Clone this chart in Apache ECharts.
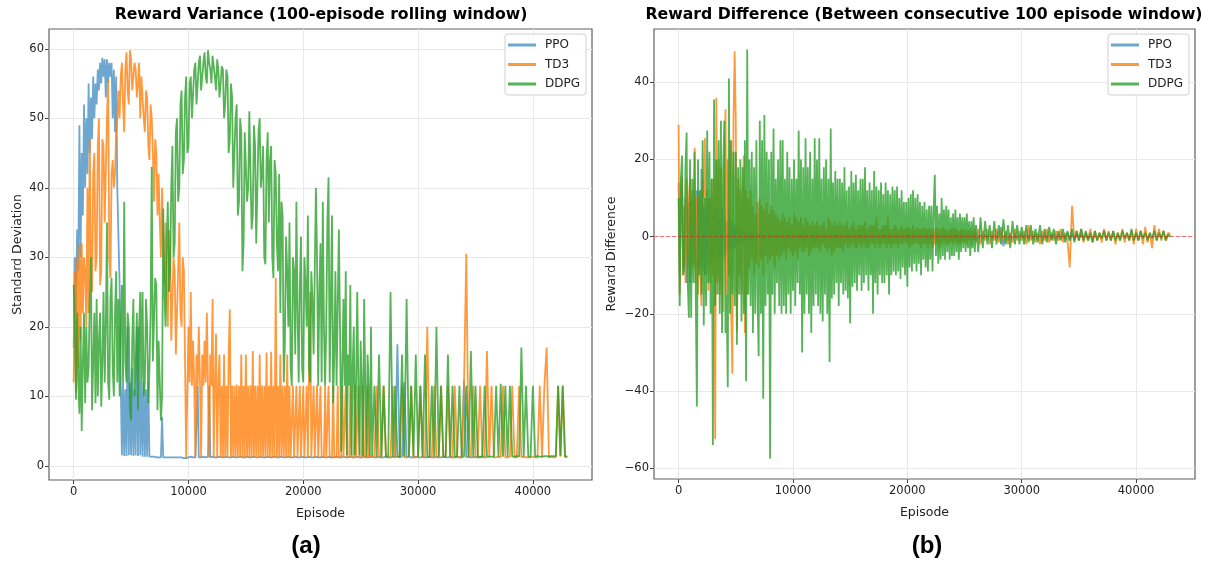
<!DOCTYPE html>
<html>
<head>
<meta charset="utf-8">
<script src="https://cdn.jsdelivr.net/npm/echarts@6/dist/echarts.min.js"></script>
<style>
html, body { margin: 0; background: #fff; }
#chart { width: 1212px; height: 562px; }
</style>
</head>
<body>
<div id="chart"></div>
<script>
// values: every 100 episodes up to 25900, then every 200
const EARLY_STEP = 100
const LATE_STEP = 200
const LATE_START = 26000
const names = ['PPO', 'TD3', 'DDPG']
const episodeTicks = [0, 10000, 20000, 30000, 40000]
const stdTicks = [0, 10, 20, 30, 40, 50, 60]
const diffTicks = [-60, -40, -20, 0, 20, 40]

// (a) rolling std
const ppoStdEarly = [
  17, 30, 22, 34, 28, 49, 30, 45, 36, 52,
  40, 50, 42, 55, 45, 53, 47, 56, 50, 55,
  52, 57, 54, 58, 55, 58.7, 56, 58.5, 53, 58.5,
  55, 58, 56, 58, 50, 57, 48, 56, 40, 33,
  26, 12, 1.5, 12, 1.4, 11, 1.4, 20, 1.5, 12,
  1.5, 14, 1.4, 11, 1.5, 20, 1.4, 20, 1.5, 12,
  1.3, 12, 1.3, 11, 1.3, 12, 1.3, 1.2, 1.3, 1.2,
  1.3, 1.2, 1.2, 1.2, 1.2, 1.3, 1.2, 7, 1.2, 1.2,
  1.2, 1.1, 1.2, 1.1, 1.2, 1.1, 1.2, 1.1, 1.2, 1.1,
  1.2, 1.1, 1.2, 1.1, 1.2, 1.2, 1.1, 1.2, 1.1, 1.2,
  1.2, 1.2, 1.3, 1.2, 1.2, 1.3, 1.2, 1.2, 11.5, 1.2,
  1.3, 1.2, 1.2, 1.3, 1.2, 1.2, 1.2, 1.3, 11.5, 1.2,
  1.2, 1.3, 1.2, 1.2, 1.3, 1.2, 1.2, 1.3, 1.2, 1.2,
  1.3, 1.2, 1.2, 1.3, 1.2, 1.2, 1.3, 1.2, 1.2, 1.3,
  1.2, 1.2, 1.3, 1.2, 1.2, 1.3, 1.2, 1.2, 1.3, 1.2,
  1.2, 1.3, 1.2, 1.2, 1.3, 1.2, 1.2, 1.3, 1.2, 1.2,
  1.3, 1.2, 1.2, 1.3, 1.2, 1.2, 1.3, 1.2, 1.2, 1.3,
  1.2, 1.2, 1.3, 1.2, 1.2, 1.3, 1.2, 1.2, 1.3, 1.2,
  1.2, 1.3, 1.2, 1.2, 1.3, 1.2, 1.2, 1.3, 1.2, 1.2,
  1.3, 1.2, 1.2, 1.3, 1.2, 1.2, 1.3, 1.2, 1.2, 1.3,
  1.2, 1.2, 1.3, 1.2, 1.2, 1.3, 1.2, 1.2, 1.3, 1.2,
  1.2, 1.3, 1.2, 1.2, 1.3, 1.2, 1.2, 1.3, 1.2, 1.2,
  1.3, 1.2, 1.2, 1.3, 1.2, 1.2, 1.3, 1.2, 1.2, 1.3,
  1.2, 1.2, 1.3, 1.2, 1.2, 1.3, 1.2, 1.2, 1.3, 1.2,
  1.2, 1.3, 1.2, 1.2, 1.3, 1.2, 1.2, 1.3, 1.2, 1.2,
  1.3, 1.2, 1.2, 1.3, 1.2, 1.2, 1.3, 1.2, 1.2, 1.3
]
const ppoStdLate = [
  1.3, 1.2, 1.2, 1.3, 1.2, 1.2, 1.3, 1.2, 1.2, 1.3,
  1.2, 17.5, 1.2, 1.3, 12, 1.2, 1.3, 1.2, 1.2, 1.3,
  1.2, 1.2, 1.3, 1.2, 1.2, 1.3, 1.2, 1.2, 1.3, 1.2,
  1.2, 1.3, 1.2, 1.2, 1.3, 1.2, 1.2, 1.3, 1.2, 1.2,
  12.3, 1.2, 1.3, 1.2, 1.2, 1.3, 1.2, 1.2, 1.3, 1.2,
  1.2
]
const td3StdEarly = [
  12, 28, 10.5, 30, 14, 32, 18, 32, 22, 30,
  28, 20, 40, 22, 47, 30, 25, 42, 45, 28,
  30, 46, 50, 26, 28, 47, 46, 35, 35, 50,
  55.5, 30, 27, 42, 44, 40, 42, 48, 50, 54,
  50, 56, 58, 52, 48, 57, 59.5, 54, 52, 59.8,
  58.5, 54, 54, 58, 57, 53, 55, 58, 50, 56,
  56, 50, 48, 54, 53, 46, 44, 52, 50, 45,
  38, 47, 45, 36, 42, 35, 30, 40, 40, 26,
  35, 24, 20, 34, 32, 18, 18, 30, 28, 16,
  16, 28, 35, 22, 20, 30, 28, 15, 1.2, 1.3,
  20, 12, 25, 11.5, 18, 12, 1.2, 16, 11.5, 20,
  12, 1.2, 16, 11.5, 18, 12, 22, 11.5, 1.2, 16,
  11.5, 24, 1.2, 12, 19, 1.2, 11.5, 16, 1.3, 11.5,
  1.2, 16, 1.2, 11.5, 1.3, 16, 22.5, 1.2, 11.5, 1.2,
  11.5, 1.2, 11.7, 1.2, 11.5, 1.3, 16, 1.2, 11.5, 1.2,
  16, 1.3, 11.5, 1.2, 11.6, 1.2, 16.5, 1.2, 11.5, 1.3,
  11.5, 1.2, 16, 1.2, 11.6, 1.3, 11.5, 1.2, 16.3, 1.2,
  11.5, 1.2, 16.4, 1.2, 11.5, 1.3, 27, 1.2, 11.5, 1.2,
  16, 1.2, 11.5, 1.3, 11.5, 1.2, 16, 1.2, 11.5, 1.2,
  1.3, 11.5, 1.2, 1.2, 11.5, 1.3, 1.2, 11.5, 1.2, 1.2,
  11.5, 1.2, 1.3, 11.5, 1.2, 1.2, 25, 1.3, 1.2, 11.5,
  1.2, 1.2, 11.6, 1.2, 1.3, 11.5, 1.2, 1.2, 1.3, 11.5,
  1.2, 1.3, 11.5, 1.2, 1.2, 1.2, 11.5, 1.3, 1.2, 1.2,
  11.5, 1.2, 1.3, 1.2, 11.5, 1.2, 1.2, 11.5, 1.3, 1.2,
  1.2, 11.5, 1.2, 1.3, 1.2, 11.5, 1.2, 1.2, 11.5, 1.2,
  1.3, 1.2, 11.5, 1.2, 1.2, 1.3, 11.5, 1.2, 1.2, 1.3
]
const td3StdLate = [
  1.2, 1.3, 11.5, 1.2, 1.2, 11.5, 1.3, 1.2, 1.2, 11.5,
  1.2, 1.3, 1.2, 11.5, 1.2, 1.2, 1.3, 11.5, 1.2, 1.2,
  1.3, 11.5, 1.2, 1.2, 20, 1.2, 1.3, 11.5, 1.2, 1.2,
  11.5, 1.2, 1.3, 11.5, 1.2, 1.2, 11.5, 1.3, 1.2, 1.2,
  11.5, 30.5, 1.2, 1.3, 11.5, 1.2, 1.2, 11.5, 1.2, 1.3,
  16.5, 1.2, 11.5, 1.2, 1.2, 1.3, 1.2, 11.5, 1.2, 1.2,
  1.3, 11.5, 1.2, 1.2, 11.5, 1.2, 1.3, 1.2, 1.2, 1.2,
  1.3, 1.2, 1.2, 11.5, 1.2, 11.5, 17, 1.2, 1.3, 1.2,
  1.2, 11.5, 1.3, 11.5, 1.2, 1.3
]
const ddpgStdEarly = [
  26, 21, 9.5, 22, 12, 7.5, 20, 5, 15, 22,
  9, 20, 12, 14, 24, 30, 8, 15, 22, 9,
  24, 10, 18, 22, 8.5, 15, 25, 12, 20, 35,
  12, 9.5, 24, 27, 14, 10, 22, 28, 12, 24,
  10, 20, 26, 12, 38, 15, 12, 22, 20, 8,
  6.5, 18, 24, 10, 14, 22, 8, 20, 25, 12,
  25, 10, 12, 24, 20, 9, 14, 22, 43, 15,
  15, 27, 26, 8, 18, 12, 6.5, 10, 37, 25,
  20, 32, 38, 25, 28, 40, 46, 30, 32, 48,
  50, 38, 40, 52, 54, 42, 44, 53, 56, 45,
  46, 55, 56, 50, 50, 57, 58, 52, 52, 58,
  59, 54, 54, 58, 59.5, 56, 55, 59.8, 58, 57,
  55, 59, 59, 56, 54, 58.5, 57, 53, 55, 57.5,
  57, 50, 52, 57, 56, 45, 47, 55, 53, 40,
  40, 50, 52, 36, 38, 50, 48, 28, 32, 48,
  48, 38, 40, 51, 51, 34, 36, 49, 46, 32,
  32, 48, 50, 40, 42, 46, 30, 29, 44, 48,
  35, 44, 46, 30, 27, 44, 42, 32, 28, 42,
  22, 38, 36, 12, 18, 33, 28, 20, 35, 14,
  11.5, 30, 28, 16, 38, 22, 12, 26, 33, 14,
  12, 30, 26, 20, 36, 14, 12, 28, 24, 16,
  16, 40, 30, 11.5, 25, 32, 12, 38, 20, 11.5,
  20, 35, 41.5, 12, 24, 36, 9, 16, 28, 11.5,
  11.5, 34, 20, 2, 14, 24, 11.5, 28, 1.5, 16,
  11.5, 26, 1.5, 14, 20, 1.5, 11.5, 25, 11.5, 1.5,
  18, 11.5, 1.4, 24, 11.5, 1.3, 16, 11.5, 1.4, 20
]
const ddpgStdLate = [
  1.4, 11.5, 1.3, 16, 1.3, 11.5, 1.3, 1.4, 25, 1.3,
  11.5, 1.3, 1.3, 16, 1.3, 24, 1.3, 11.5, 1.3, 16,
  1.3, 11.5, 1.3, 16, 1.3, 1.3, 11.5, 1.3, 20, 1.3,
  11.5, 1.3, 1.3, 16, 1.3, 11.5, 1.3, 1.3, 11.5, 1.3,
  1.3, 11.5, 1.3, 16.5, 1.3, 11.5, 1.3, 1.3, 1.3, 11.5,
  1.3, 1.3, 1.3, 1.3, 11.5, 1.3, 11.8, 1.3, 11.5, 1.3,
  11.5, 1.3, 1.3, 1.4, 1.3, 17, 1.3, 11.5, 1.3, 1.3,
  11.5, 1.3, 1.4, 1.3, 1.3, 1.4, 1.4, 1.3, 1.4, 1.4,
  1.4, 11.5, 1.4, 11.5, 1.4, 1.3
]

// (b) difference between consecutive windows
const ppoDiffEarly = [
  14, -10, 8, 12, -8, -6, 10, -12, 7, 9,
  -12, 9, -7, 8, 11, -8, 12, -9, 10, -8,
  17.5, -9, 8, -10, 8, -6, 7, 10, -7, -6,
  6, -5, 8, -4, 6, -6, 5, -5, 8, -6,
  6, -5, 4, -4, 5, -3, 4, -4, 3, -3,
  3, -2, 2.5, -2, 2, -1.5, 2, -2, 1.5, -1,
  1, -1, 1.5, -1, 1, -0.5, 1, -1, 0.5, -0.5,
  0.5, -0.5, 1, -0.5, 0.5, -1, 0.5, -0.5, 0.5, -0.5,
  0.5, -0.5, 0.5, -0.5, 0.5, -0.5, 0.5, -0.5, 0.5, -0.5,
  0.5, -0.5, 1, -1, 0.5, -0.5, 0.5, -0.5, 0.5, -0.5,
  0.5, -0.5, 0.5, -0.5, 0.5, -0.5, 0.5, -0.5, 1.5, -1.5,
  0.5, -0.5, 0.5, -0.5, 0.5, -0.5, 0.5, -0.5, 1.5, -1.5,
  0.5, -0.5, 0.5, -0.5, 0.5, -0.5, 0.5, -0.5, 0.5, -0.5,
  0.5, -0.5, 0.5, -0.5, 0.5, -0.5, 0.5, -0.5, 0.5, -0.5,
  0.5, -0.5, 0.5, -0.5, 0.5, -0.5, 0.5, -0.5, 0.5, -0.5,
  0.5, -0.5, 0.5, -0.5, 0.5, -0.5, 0.5, -0.5, 0.5, -0.5,
  0.5, -0.5, 0.5, -0.5, 0.5, -0.5, 0.5, -0.5, 0.5, -0.5,
  0.5, -0.5, 0.5, -0.5, 0.5, -0.5, 0.5, -0.5, 0.5, -0.5,
  0.5, -0.5, 0.5, -0.5, 0.5, -0.5, 0.5, -0.5, 0.5, -0.5,
  0.5, -0.5, 0.5, -0.5, 0.5, -0.5, 0.5, -0.5, 0.5, -0.5,
  0.5, -0.5, 0.5, -0.5, 0.5, -0.5, 0.5, -0.5, 0.5, -0.5,
  0.5, -0.5, 0.5, -0.5, 0.5, -0.5, 0.5, -0.5, 0.5, -0.5,
  0.5, -0.5, 0.5, -0.5, 0.5, -0.5, 0.5, -0.5, 0.5, -0.5,
  0.5, -0.5, 0.5, -0.5, 0.5, -0.5, 0.5, -0.5, 0.5, -0.5,
  0.5, -0.5, 0.5, -0.5, 0.5, -0.5, 0.5, -0.5, 0.5, -0.5,
  0.5, -0.5, 0.5, -0.5, 0.5, -0.5, 0.5, -0.5, 0.5, -0.5
]
const ppoDiffLate = [
  0.5, -0.5, 0.5, -0.5, 0.5, -0.5, 0.5, -0.5, 0.5, -0.5,
  0.5, 2.5, -2.5, 1, -1, 0.5, -0.5, 0.5, -0.5, 0.5,
  0.5, -0.5, 0.5, -0.5, 0.5, -0.5, 0.5, -0.5, 0.5, -0.5,
  0.5, -0.5, 0.5, -0.5, 0.5, -0.5, 0.5, -0.5, 0.5, -0.5,
  1, -1, 0.5, -0.5, 0.5, -0.5, 0.5, -0.5, 0.5, -0.5,
  0
]
const td3DiffEarly = [
  29, -15, 12, 15.5, -10, 8, -12, 15, -8, 10,
  15, -10, 12, -8, 23, -12, 10, -15, 12, -10,
  -18, 15, 10, 25.5, -10, 12, -14, 10, -12, 15,
  -10, 15, -52.5, 36, -12, 20, -15, 18, -12, -19.5,
  15, 33, -15, 20, -10, 25, -20, -35.5, 30, 48,
  30, -24.5, 15, -10, 12, -15, 10, 21, -25, 12,
  -15, 10, -8, 12, -6, 8, -10, 6, -7, 9,
  -8, 10, -6, 8, -10, 7, -5, 9, -7, 6,
  -6, 8, -5, 7, -8, 6, -5, 5, -6, 4,
  -5, 6, -4, 5, -6, 4, -3, 5, -4, 3,
  -5, 6, -4, 5, -6, 4, -3, 5, -4, 3,
  -4, 5, -3, 4, -5, 3, -4, 4, -3, 3,
  -3, 4, -3, 3, -4, 3, -2, 4, -3, 2,
  -4, 5, -3, 4, -5, 3, -4, 4, -3, 3,
  -3, 4, -3, 3, -4, 3, -2, 4, -3, 2,
  -3, 3, -2, 4, -3, 2, -3, 3, -2, 3,
  -3, 3, -2, 4, -3, 2, -3, 3, -2, 3,
  -2, 3, -3, 5, -2, 2, -3, 2, -2, 3,
  -2, 3, -3, 5, -2, 2, -3, 2, -2, 3,
  -2, 2.5, -3, 2, -2, 3, -2, 2, -1.5, 2.5,
  -2, 2.5, -3, 2, -2, 3, -2, 2, -1.5, 2.5,
  -2, 2, -3, 2, -2, 2.5, -2, 2, -3, 2,
  -2, 2, -3, 2, -2, 2.5, -2, 2, -3, 2,
  -2, 2.5, -1.5, 2, -2, 1.5, -2, 2, -1.5, 2,
  -2, 2.5, -1.5, 2, -2, 1.5, -2, 2, -1.5, 2,
  -1.5, 2, -2, 1.5, -1, 2, -2, 1.5, -1, 2
]
const td3DiffLate = [
  -1.5, 2, -2, 1.5, -1, 2, -2, 1.5, -1, 2,
  -1.5, 2, -1, 1.5, -2, 1, -1.5, 2, -1, 1.5,
  -1, 1.5, -2, 3, -1, 1.5, -1.5, 1, -2, 1.5,
  -1, 2, -1.5, 1, -1, 1.5, -1, 2, -1.5, 1,
  -1, -8, 8, -1, 1.5, -1, 2, -1.5, 1, -1,
  2, -1.5, 1.5, -1, 1, -1.5, 2, -1, 1.5, -1,
  1.5, -2, 1, -1, 2, -1.5, 1, -1, 1.5, -2,
  2, -1, 1.5, -2, 2.5, -1.5, 1, -3, 3, -1,
  2, -1, 1.5, -1, 1, 0.5
]
const ddpgDiffEarly = [
  10, -18, 15, 21, -10, -8, 18, 27, -12, -21,
  20, -21, 15, -12, 22, -15, -44, 20, -10, 12,
  -15, 25, -23, 10, -18, 27.5, -12, 22, -20, 15,
  -54, 35.5, -18, 20, -15, 25, -20, 30, -25, 18,
  30, -25, -15, -39, 41, -20, 25, -15, 22, -18,
  22, -28, 18, -15, 20, -22, 18, -20, 25, -37.5,
  48.5, -15, 20, -18, 22, -25, 18, -20, 25, -15,
  -31, 30, -20, 25, -42, 31.5, -18, 22, -15, 20,
  -57.5, 22, -15, 28, -20, 15, -12, 20, -18, 25,
  -20, 25, -18, 15, -20, 22, -15, 18, -20, 15,
  -14, 20, -18, 15, -12, 27.5, -15, 20, -30, 18,
  -20, 25.5, -15, 18, -20, 22, -25, 15, -18, 25.5,
  -15, 20, -18, 25.5, -20, 15, -22, 18, -15, 20,
  -20, 15, -32.5, 28, -16, 14, -15, 17, -12, 15,
  -18, 15, -12, 14, -15, 18, -14, 12, -16, 13,
  -22.5, 17, -13, 14, -12, 16, -14, 12, -10, 15,
  -14, 15, -12, 18, -10, 12, -14, 14, -10, 12,
  -20, 17, -12, 13, -15, 12, -10, 14, -12, 11,
  -12, 14, -10, 12, -15, 11, -10, 13, -9, 12,
  -10, 13, -9, 10, -11, 12, -8, 9, -10, 9,
  -13, 10, -8, 11, -9, 12, -7, 10, -9, 11,
  -7, 9, -10, 8, -6, 9, -8, 7, -9, 8,
  -6, 8, -9, 7, 16, -5, 8, -7, 6, -6,
  10, -5, 7, -6, 8, -4, 7, -6, 5, -5,
  6, -5, 7, -4, 5, -6, 6, -4, 5, -3,
  5, -4, 6, -3, 4, -5, 4, -3, 5, -4
]
const ddpgDiffLate = [
  3, -4, 5, -3, 4, -2, 3, -3, 4, -2,
  3, -2, 4.5, -2, 3, -3, 4, -2, 3, -2,
  2.5, -2, 3, -1.5, 3, -2, 2, -1.5, 3, -2,
  2, -1.5, 2.5, -1, 2, -2, 1.5, -1, 2, -1.5,
  1.5, -1, 2, -1.5, 1.5, -1, 2, -1, 1.5, -1,
  1, -1.5, 1.5, -1, 1, -0.5, 1.5, -1, 1, -1,
  1.5, -1, 1, -1, 1.5, -0.5, 1, -1, 2, -1,
  1, -1, 1.5, -0.5, 1, -1, 1, -0.5, 1.5, -1,
  1, -0.5, 1.5, -1, 0.5, 0
]

const font = 'DejaVu Sans'
const colors = ['rgba(31,119,180,0.65)', 'rgba(255,127,14,0.8)', 'rgba(44,160,44,0.8)']
const toPts = (early, late) => early.map((v, i) => [i * EARLY_STEP, v])
  .concat(late.map((v, i) => [LATE_START + i * LATE_STEP, v]))
const minus = v => String(v).replace('-', '\u2212')

const chart = echarts.init(document.getElementById('chart'))

const xAxisFor = gridIndex => ({
  type: 'value',
  gridIndex: gridIndex,
  min: -2150,
  max: 45150,
  name: 'Episode',
  nameLocation: 'middle',
  nameGap: 27,
  nameTextStyle: { fontFamily: font, fontSize: 12.5, color: '#222' },
  axisLine: { show: false, onZero: false },
  axisTick: { show: true, length: 4, customValues: episodeTicks, lineStyle: { color: '#444' } },
  axisLabel: { fontFamily: font, fontSize: 11.5, color: '#222', margin: 6, customValues: episodeTicks, formatter: v => String(v) },
  splitLine: { show: true, lineStyle: { color: '#e8e8e8' } }
})

const yAxisFor = (gridIndex, name, min, max, ticks, gap) => ({
  type: 'value',
  gridIndex: gridIndex,
  min: min,
  max: max,
  name: name,
  nameLocation: 'middle',
  nameGap: gap,
  nameTextStyle: { fontFamily: font, fontSize: 12.5, color: '#222' },
  axisLine: { show: false, onZero: false },
  axisTick: { show: true, length: 4, customValues: ticks, lineStyle: { color: '#444' } },
  axisLabel: { fontFamily: font, fontSize: 11.5, color: '#222', margin: 5, customValues: ticks, formatter: minus },
  splitLine: { show: true, lineStyle: { color: '#e8e8e8' } }
})

const lineSeries = (name, early, late, idx, axisIndex) => ({
  name: name,
  type: 'line',
  xAxisIndex: axisIndex,
  yAxisIndex: axisIndex,
  data: toPts(early, late),
  showSymbol: false,
  symbol: 'none',
  animation: false,
  lineStyle: { width: 1.8, color: colors[idx] },
  itemStyle: { color: colors[idx] }
})

const legendFor = left => ({
  left: left,
  top: 34,
  orient: 'vertical',
  data: names,
  icon: 'rect',
  itemWidth: 28,
  itemHeight: 3,
  itemGap: 7.5,
  padding: [5, 6, 5, 3],
  backgroundColor: 'rgba(255,255,255,0.85)',
  borderColor: '#d0d0d0',
  borderWidth: 1,
  borderRadius: 3,
  textStyle: { fontFamily: font, fontSize: 12, color: '#222', padding: [0, 0, 0, 4] }
})

const titleStyle = { fontFamily: font, fontWeight: 'bold', fontSize: 15.7, color: '#000' }
const panelStyle = { fontFamily: 'Liberation Sans', fontWeight: 'bold', fontSize: 24, color: '#000' }

const option = {
  backgroundColor: '#fff',
  animation: false,
  title: [
    { text: 'Reward Variance (100-episode rolling window)', left: 321, top: 7, textAlign: 'center', padding: 0, textStyle: titleStyle },
    { text: 'Reward Difference (Between consecutive 100 episode window)', left: 924, top: 7, textAlign: 'center', padding: 0, textStyle: titleStyle },
    { text: '(a)', left: 306, top: 534, textAlign: 'center', padding: 0, textStyle: panelStyle },
    { text: '(b)', left: 927, top: 534, textAlign: 'center', padding: 0, textStyle: panelStyle }
  ],
  legend: [legendFor(505), legendFor(1108)],
  grid: [
    { left: 49, top: 29, width: 543, height: 451, show: true, borderColor: '#606060', borderWidth: 1.2, backgroundColor: 'transparent' },
    { left: 654, top: 29, width: 541, height: 450, show: true, borderColor: '#606060', borderWidth: 1.2, backgroundColor: 'transparent' }
  ],
  xAxis: [xAxisFor(0), xAxisFor(1)],
  yAxis: [
    yAxisFor(0, 'Standard Deviation', -2.05, 62.85, stdTicks, 25),
    yAxisFor(1, 'Reward Difference', -62.8, 53.8, diffTicks, 36)
  ],
  series: [
    lineSeries('PPO', ppoStdEarly, ppoStdLate, 0, 0),
    lineSeries('TD3', td3StdEarly, td3StdLate, 1, 0),
    lineSeries('DDPG', ddpgStdEarly, ddpgStdLate, 2, 0),
    lineSeries('PPO', ppoDiffEarly, ppoDiffLate, 0, 1),
    lineSeries('TD3', td3DiffEarly, td3DiffLate, 1, 1),
    Object.assign(lineSeries('DDPG', ddpgDiffEarly, ddpgDiffLate, 2, 1), {
      markLine: {
        silent: true,
        symbol: 'none',
        label: { show: false },
        lineStyle: { color: 'rgba(255,0,0,0.5)', type: 'dashed', width: 1 },
        data: [{ yAxis: 0 }]
      }
    })
  ]
}

chart.setOption(option)
</script>
</body>
</html>
